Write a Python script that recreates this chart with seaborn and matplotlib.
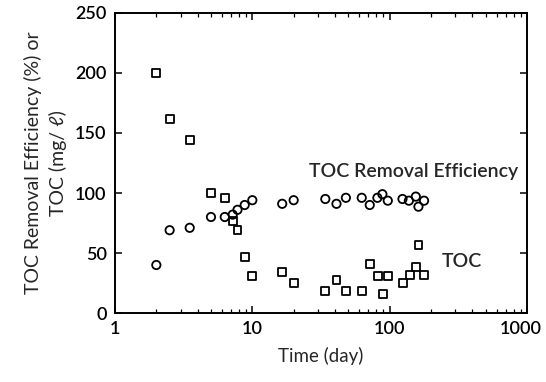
import matplotlib
matplotlib.use("Agg")
import matplotlib.pyplot as plt
import matplotlib.transforms as mtransforms
import seaborn as sns
import pandas as pd
import numpy as np

# TOC (mg/l) vs time (day)
toc_dias = [2, 2.5, 3.5, 5, 6.3, 7.2, 7.8, 8.8, 10, 16.5, 20, 34, 41, 48, 62.6, 71.6,
            82, 89, 97, 125, 140, 155, 162, 178]
toc_valores = [200, 162, 144, 100, 96, 77, 69, 47, 31, 34, 25, 18, 27.5, 18.6, 18.6, 40.8,
               31, 15.6, 31, 24.7, 31.4, 38.6, 56.4, 31.7]

# eficiencia de remocion (%) vs time (day)
ef_dias = [2, 2.5, 3.5, 5, 6.3, 7.2, 7.8, 8.8, 10, 16.5, 20, 34, 41, 48, 62.6, 71.6,
           81.4, 88.5, 96.9, 124, 138, 155, 162, 178]
ef_valores = [40, 69, 71, 80, 80, 82, 86, 90, 94, 91, 94, 95, 91, 96, 96, 90,
              96, 99, 93.6, 95, 93.6, 97, 88.6, 93.6]

df_toc = pd.DataFrame({"dia": toc_dias, "valor": toc_valores})
df_ef = pd.DataFrame({"dia": ef_dias, "valor": ef_valores})

sns.set_style("ticks")
plt.rcParams["font.family"] = ["Lato", "DejaVu Sans"]
plt.rcParams["font.weight"] = "semibold"

fig = plt.figure(figsize=(5.46, 3.82), dpi=100)
ax = fig.add_axes([0.2106, 0.1806, 0.7546, 0.7854])

sns.scatterplot(data=df_toc, x="dia", y="valor", marker="s", s=32,
                facecolor="none", edgecolor="black", linewidth=1.3, ax=ax)
sns.scatterplot(data=df_ef, x="dia", y="valor", marker="o", s=36,
                facecolor="none", edgecolor="black", linewidth=1.3, ax=ax)

ax.set_xscale("log")
ax.set_xlim(1, 1000)
ax.set_ylim(0, 250)
ax.set_xticks([1, 10, 100, 1000])
ax.set_xticklabels(["1", "10", "100", "1000"])
ax.set_yticks([0, 50, 100, 150, 200, 250])

for s in ax.spines.values():
    s.set_linewidth(1.4)
    s.set_color("black")
ax.tick_params(which="both", direction="in", top=True, right=True, labelsize=13,
               colors="black", pad=6)
ax.tick_params(which="major", length=5, width=1.1)
ax.tick_params(which="minor", length=3, width=0.9)

# el 1000 queda un poco corrido a la izquierda, como en el original
desplaz = mtransforms.ScaledTranslation(-6 / 100, 0, fig.dpi_scale_trans)
ultima = ax.get_xticklabels()[-1]
ultima.set_transform(ultima.get_transform() + desplaz)

ax.set_xlabel("Time (day)", fontsize=13.5, labelpad=7)
ax.set_ylabel("TOC Removal Efficiency (%) or\nTOC (mg/ ℓ)", fontsize=14, labelpad=6,
              linespacing=1.45)

ax.text(26, 118, "TOC Removal Efficiency", fontsize=14, va="center", ha="left")
ax.text(240, 43, "TOC", fontsize=14, va="center", ha="left")

fig.savefig("out.png", dpi=100)
